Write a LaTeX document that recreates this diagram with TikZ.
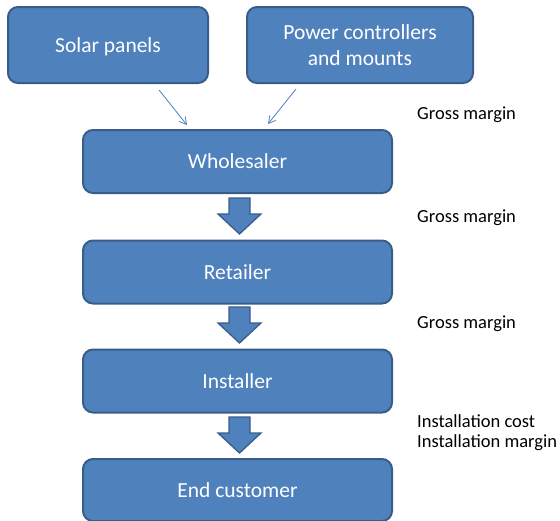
\documentclass[tikz,border=0pt]{standalone}
\usepackage{fontspec}
\setmainfont{Carlito}
\usetikzlibrary{arrows.meta}
\definecolor{boxfill}{HTML}{4F81BD}
\definecolor{boxline}{HTML}{385D8A}
\tikzset{
  box/.style={draw=boxline, fill=boxfill, line width=2pt, rounded corners=10pt,
    text=white, inner sep=0pt, align=center, text depth=0pt,
    font=\fontsize{21.5pt}{26pt}\selectfont},
  label/.style={anchor=west, inner sep=0pt, align=left, text=black,
    font=\fontsize{18.5pt}{20pt}\selectfont},
  thinarrow/.style={draw=boxfill, line width=0.8pt, -{Straight Barb[length=7pt,width=8pt]}},
  blockarrow/.style={draw=boxline, fill=boxfill, line width=1.3pt, line join=miter}
}
\begin{document}
\begin{tikzpicture}[x=1pt,y=-1pt]
\useasboundingbox (0,0) rectangle (560,520);

\node[box, minimum width=200pt, minimum height=76pt] (solar) at (108,45) {Solar panels};
\node[box, minimum width=226pt, minimum height=76pt] (power) at (360,45) {Power controllers\\and mounts};
\node[box, minimum width=309pt, minimum height=63pt] (whole) at (237.5,161.5) {Wholesaler};
\node[box, minimum width=309pt, minimum height=63pt] (retail) at (237.5,272) {Retailer};
\node[box, minimum width=309pt, minimum height=63pt] (install) at (237.5,381) {Installer};
\node[box, minimum width=309pt, minimum height=62pt] (endc) at (237.5,490) {End customer};

\coordinate (s1) at (159,90);
\coordinate (s2) at (187,125);
\coordinate (p1) at (296,89);
\coordinate (p2) at (268,124);
\draw[thinarrow] (s1) -- (s2);
\draw[thinarrow] (p1) -- (p2);

% block arrows
\foreach \t in {198,307,417}{
  \draw[blockarrow] (229,\t) -- (250,\t) -- (250,\t+16) -- (261,\t+16) -- (239.5,\t+36)
    -- (218,\t+16) -- (229,\t+16) -- cycle;
}

\node[label] (g1) at (417,114.5) {Gross margin};
\node[label] (g2) at (417,217.5) {Gross margin};
\node[label] (g3) at (417,323.5) {Gross margin};
\node[label] (ic) at (417,432.5) {Installation cost\\Installation margin};
\end{tikzpicture}
\end{document}
